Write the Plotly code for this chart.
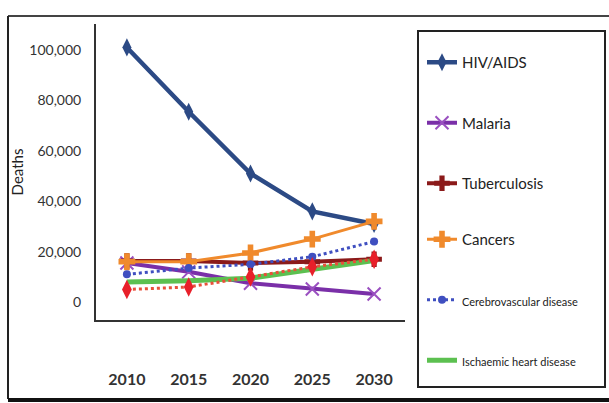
import plotly.graph_objects as go

years = ["2010", "2015", "2020", "2025", "2030"]
hiv = [101000, 75500, 51000, 36000, 31000]
malaria = [15500, 12000, 7500, 5200, 3200]
tuberculosis = [16300, 16300, 15500, 16000, 17000]
cancers = [16000, 16000, 19500, 25000, 32000]
cerebrovascular = [11000, 13500, 15000, 18000, 24000]
ischaemic = [8000, 8500, 9500, 13000, 16500]
other_red = [5000, 6000, 10000, 14000, 17000]
y_ticks = [0, 20000, 40000, 60000, 80000, 100000]

W, H = 609, 403
L, R, T, B = 96, 405, 24, 320

def px(x):
    return (x - L) / (R - L)

def py(y):
    return (B - y) / (B - T)

fig = go.Figure()

fig.add_trace(go.Scatter(x=years, y=hiv, name="HIV/AIDS", legend="legend", legendgroup="a",
    mode="lines+markers", line=dict(color="#2C4A85", width=4.5),
    marker=dict(symbol="diamond-tall", size=13, color="#2C4A85")))
fig.add_trace(go.Scatter(x=years, y=malaria, name="Malaria", legend="legend", legendgroup="b",
    mode="lines+markers", line=dict(color="#7A2FA8", width=4),
    marker=dict(symbol="x-thin", size=13, line=dict(color="#9A50C0", width=2))))
fig.add_trace(go.Scatter(x=years, y=tuberculosis, name="Tuberculosis", legend="legend", legendgroup="c",
    mode="lines+markers", line=dict(color="#8B1A1A", width=4),
    marker=dict(symbol="cross", size=13, color="#8B1A1A")))
fig.add_trace(go.Scatter(x=years, y=cancers, name="Cancers", legend="legend2", legendgroup="d",
    mode="lines+markers", line=dict(color="#F08A2C", width=3),
    marker=dict(symbol="cross", size=14, color="#F08A2C")))
fig.add_trace(go.Scatter(x=years, y=cerebrovascular,
    name="<span style='font-size:11px'>Cerebrovascular disease</span>", legend="legend2", legendgroup="e",
    mode="lines+markers", line=dict(color="#3F4FC0", width=3, dash="dot"),
    marker=dict(symbol="circle", size=8, color="#3F4FC0")))
fig.add_trace(go.Scatter(x=years, y=ischaemic,
    name="<span style='font-size:11px'>Ischaemic heart disease</span>", legend="legend2", legendgroup="f",
    mode="lines", line=dict(color="#5CC050", width=5)))
fig.add_trace(go.Scatter(x=years, y=other_red, name="Other", showlegend=False,
    mode="lines+markers", line=dict(color="#E8503A", width=3, dash="dot"),
    marker=dict(symbol="diamond-tall", size=14, color="#E8202A")))

shapes = [
    dict(type="line", xref="paper", yref="paper", x0=px(8), x1=px(W), y0=py(16), y1=py(16),
         line=dict(color="#444", width=2)),
    dict(type="line", xref="paper", yref="paper", x0=px(8), x1=px(8), y0=py(16), y1=py(399),
         line=dict(color="#222", width=2)),
    dict(type="line", xref="paper", yref="paper", x0=px(8), x1=px(W), y0=py(400), y1=py(400),
         line=dict(color="#111", width=4)),
    dict(type="rect", xref="paper", yref="paper", x0=px(418), x1=px(605), y0=py(31), y1=py(387),
         line=dict(color="#222", width=2)),
]

legend_common = dict(xanchor="left", yanchor="top", font=dict(size=15, color="#222"),
                     tracegroupgap=38, itemwidth=30, bgcolor="rgba(0,0,0,0)")

fig.update_layout(
    width=W, height=H,
    margin=dict(l=L, r=W - R, t=T, b=H - B, autoexpand=False),
    paper_bgcolor="white", plot_bgcolor="white",
    font=dict(family="Lato", color="#333"),
    shapes=shapes,
    showlegend=True,
    legend=dict(x=px(422), y=py(46), **legend_common),
    legend2=dict(x=px(422), y=py(223), **legend_common),
    xaxis=dict(type="category", range=[-0.5, 4.5], showline=True, linecolor="#333",
               linewidth=2, showgrid=False, ticks="", ticklabelstandoff=44,
               tickfont=dict(size=16, color="#333", weight="bold")),
    yaxis=dict(range=[-7100, 110300], showline=True, linecolor="#333", linewidth=2,
               showgrid=False, zeroline=False, tickvals=y_ticks, tickformat=",d",
               ticks="", ticklabelstandoff=10, tickfont=dict(size=14, color="#333"),
               title=dict(text="Deaths", font=dict(size=15, color="#222"), standoff=2)),
)

fig.write_html("out.html", config={"displayModeBar": False},
               post_script="document.body.style.margin='0';")
